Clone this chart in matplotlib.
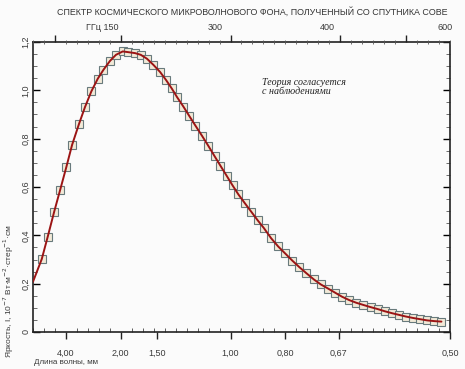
import matplotlib
matplotlib.use("Agg")
import matplotlib.pyplot as plt
from matplotlib import font_manager
from matplotlib.ticker import MultipleLocator, FixedLocator, NullFormatter
import matplotlib.transforms as mtransforms

# ---------------- data ----------------
# frequency, cm^-1 (linear axis) and brightness, 10^-7 W m^-2 sr^-1 cm
freq = [1.40, 1.67, 1.96, 2.24, 2.52, 2.78, 3.10, 3.37, 3.66, 3.95,
        4.21, 4.51, 4.78, 5.09, 5.34, 5.65, 5.91, 6.19, 6.49, 6.79,
        7.06, 7.32, 7.57, 7.85, 8.12, 8.40, 8.70, 8.99, 9.27, 9.54,
        9.82, 10.09, 10.36, 10.66, 10.95, 11.23, 11.52, 11.85, 12.17, 12.49,
        12.82, 13.14, 13.46, 13.79, 14.11, 14.44, 14.76, 15.08, 15.41, 15.73,
        16.05, 16.38, 16.70, 17.02, 17.35, 17.67, 17.99, 18.32, 18.64, 18.96,
        19.29, 19.61]
bright = [0.302, 0.394, 0.496, 0.589, 0.683, 0.774, 0.862, 0.931, 0.996, 1.048,
          1.085, 1.122, 1.147, 1.161, 1.158, 1.154, 1.147, 1.131, 1.105, 1.076,
          1.043, 1.008, 0.971, 0.933, 0.894, 0.854, 0.812, 0.770, 0.728, 0.688,
          0.647, 0.607, 0.569, 0.532, 0.497, 0.463, 0.430, 0.388, 0.354, 0.325,
          0.295, 0.268, 0.243, 0.218, 0.197, 0.180, 0.163, 0.146, 0.132, 0.121,
          0.112, 0.103, 0.095, 0.086, 0.078, 0.071, 0.064, 0.058, 0.053, 0.048,
          0.045, 0.043]
# theory curve: starts at the left edge of the plot
curve_start_freq = [1.0]
curve_start_val = [0.208]

wavelength_labels = ["4,00", "2,00", "1,50", "1,00", "0,80", "0,67", "0,50"]
wavelength_mm = [4.0, 2.0, 1.5, 1.0, 0.8, 0.67, 0.5]
top_tick_freq = [2, 5, 10, 15, 18]
top_label_text = ["ГГц 150", "300", "400", "600"]
top_label_pos = [4.14, 9.29, 14.39, 19.77]
y_ticks = [0, 0.2, 0.4, 0.6, 0.8, 1.0, 1.2]
y_labels = ["0", "0,2", "0,4", "0,6", "0,8", "1,0", "1,2"]

# ---------------- fonts ----------------
names = {f.name for f in font_manager.fontManager.ttflist}
narrow = "Liberation Sans Narrow" if "Liberation Sans Narrow" in names else "Liberation Sans"
sans = [narrow, "DejaVu Sans"]
plt.rcParams["font.family"] = sans

txt = "#3a3a3a"
bg = "#fbfbfb"

fig = plt.figure(figsize=(4.65, 3.69), dpi=100, facecolor=bg)
ax = fig.add_axes([33 / 465, 1 - 332 / 369, 417 / 465, 290 / 369], facecolor=bg)

ax.set_xlim(1.0, 20.0)
ax.set_ylim(0, 1.2)

# data
ax.plot(freq, bright, ls="none", marker="s", ms=5.2, mfc="#f2ead8",
        mec="#687a7c", mew=0.8, zorder=3)
ax.plot(curve_start_freq + freq, curve_start_val + bright, color="#9b1414",
        lw=1.4, zorder=4, solid_capstyle="round")

# spines
for s in ax.spines.values():
    s.set_linewidth(1.2)
    s.set_color("#222222")

# bottom ticks (wavelength)
ax.xaxis.set_major_locator(FixedLocator([10.0 / w for w in wavelength_mm]))
ax.set_xticklabels(wavelength_labels)
ax.xaxis.set_minor_locator(MultipleLocator(0.5))
ax.tick_params(axis="x", which="major", direction="out", length=5, width=1.0,
               labelsize=6.5, colors="#222222", labelcolor=txt, pad=7,
               top=False)
ax.tick_params(axis="x", which="minor", direction="in", length=3, width=0.6,
               colors="#444444", top=False)

# left / right ticks
ax.set_yticks(y_ticks)
ax.set_yticklabels(y_labels, rotation=90, va="center")
ax.yaxis.set_minor_locator(MultipleLocator(0.05))
ax.tick_params(axis="y", which="major", direction="in", length=5, width=1.0,
               labelsize=6.5, labelcolor=txt, pad=2, right=True)
ax.tick_params(axis="y", which="minor", direction="in", length=3, width=0.6,
               right=True, colors="#555555")

# top axis (frequency)
axt = ax.twiny()
axt.set_xlim(ax.get_xlim())
axt.xaxis.set_major_locator(FixedLocator(top_tick_freq))
axt.xaxis.set_minor_locator(MultipleLocator(0.5))
axt.xaxis.set_major_formatter(NullFormatter())
axt.tick_params(axis="x", which="major", direction="out", length=5, width=1.0,
                colors="#222222")
axt.tick_params(axis="x", which="minor", direction="inout", length=3, width=0.6,
                colors="#555555")
for s in axt.spines.values():
    s.set_visible(False)

trans = mtransforms.blended_transform_factory(ax.transData, ax.transAxes)
for p, t in zip(top_label_pos, top_label_text):
    ax.text(p, 1 + 15 / 290, t, transform=trans, ha="center", va="center",
            fontsize=6.5, color=txt)

# titles / labels
fig.text(447 / 465, 1 - 12 / 369,
         "СПЕКТР КОСМИЧЕСКОГО МИКРОВОЛНОВОГО ФОНА, ПОЛУЧЕННЫЙ СО СПУТНИКА COBE",
         ha="right", va="center", fontsize=6.4, color="#333333")
fig.text(34 / 465, 1 - 363 / 369, "Длина волны, мм", ha="left", va="center",
         fontsize=5.8, color=txt)
fig.text(9 / 465, 1 - 358 / 369,
         "Яркость, I, 10$^{-7}$ Вт·м$^{-2}$·стер$^{-1}$·см",
         rotation=90, ha="center", va="bottom", fontsize=6.0, color=txt)

ax.text((262 - 33) / 417, (332 - 78) / 290,
        "Теория согласуется\nс наблюдениями", transform=ax.transAxes,
        ha="left", va="top", fontsize=7.2, style="italic",
        family=["Liberation Serif", "DejaVu Serif"], color="#222222",
        linespacing=1.05)

fig.savefig("out.png", dpi=100, facecolor=bg)
